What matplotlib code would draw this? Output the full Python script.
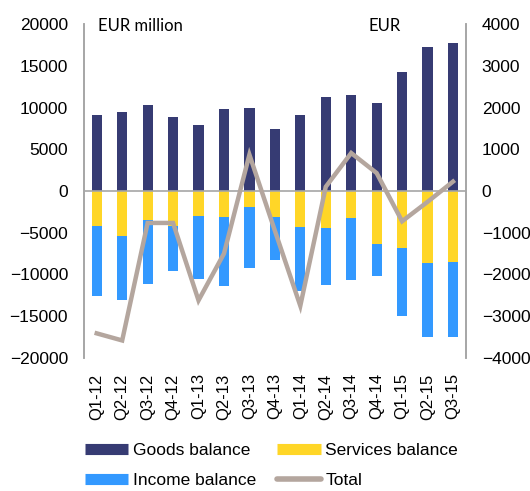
import numpy as np
import matplotlib
matplotlib.use('Agg')
import matplotlib.pyplot as plt
from matplotlib.lines import Line2D

plt.rcParams['font.family'] = ['Liberation Sans', 'DejaVu Sans']

# --- data ---
quarters = ['Q1-12', 'Q2-12', 'Q3-12', 'Q4-12', 'Q1-13', 'Q2-13', 'Q3-13', 'Q4-13',
            'Q1-14', 'Q2-14', 'Q3-14', 'Q4-14', 'Q1-15', 'Q2-15', 'Q3-15']
goods = [9150, 9480, 10320, 8880, 7910, 9840, 10000, 7470,
         9160, 11290, 11490, 10520, 14220, 17190, 17710]
services = [-4220, -5340, -3500, -4220, -3010, -3170, -1970, -3090,
            -4340, -4460, -3250, -6310, -6870, -8680, -8510]
income = [-8350, -7750, -7630, -5420, -7470, -8200, -7230, -5220,
          -7590, -6830, -7390, -3890, -8110, -8790, -8960]
total = [-3410, -3580, -765, -765, -2620, -1500, 870, -950,
         -2750, 100, 910, 430, -725, -260, 225]

GOODS_C = '#363B73'
SERV_C = '#FFD627'
INC_C = '#3399FF'
TOTAL_C = '#B4A69E'
SPINE_C = '#A6A6A6'
FS = 12.5

fig = plt.figure(figsize=(5.30, 4.91), dpi=100)
ax = fig.add_axes([0.1585, 0.2709, 0.7202, 0.6802])

x = np.arange(len(quarters))
w = 0.4
ax.bar(x, goods, w, color=GOODS_C, zorder=2)
ax.bar(x, services, w, color=SERV_C, zorder=2)
ax.bar(x, income, w, bottom=services, color=INC_C, zorder=2)
ax.axhline(0, color=SPINE_C, lw=1.2, zorder=3)

ax.set_xlim(-0.5, len(quarters) - 0.5)
ax.set_ylim(-20000, 20000)
ax.set_yticks(np.arange(-20000, 20001, 5000))
ax.set_xticks(x)
ax.set_xticklabels(quarters, rotation=90, fontsize=12)
ax.tick_params(axis='both', length=0, labelsize=FS)
ax.tick_params(axis='x', pad=11, labelsize=12)
ax.tick_params(axis='y', pad=11.5)

# right axis for the total
ax2 = ax.twinx()
ax2.plot(x, total, color=TOTAL_C, lw=3.2, zorder=4, solid_joinstyle='miter')
ax2.set_ylim(-4000, 4000)
ax2.set_yticks(np.arange(-4000, 4001, 1000))
ax2.tick_params(axis='y', length=0, labelsize=FS, pad=11.5)

for a in (ax, ax2):
    for s in ('top', 'bottom'):
        a.spines[s].set_visible(False)
    for s in ('left', 'right'):
        a.spines[s].set_color(SPINE_C)
        a.spines[s].set_linewidth(1.2)

ax.text(0.037, 0.995, 'EUR million', transform=ax.transAxes, fontsize=12,
        family=['Lato', 'DejaVu Sans'], va='center', ha='left')
ax.text(0.745, 0.995, 'EUR', transform=ax.transAxes, fontsize=12,
        family=['Lato', 'DejaVu Sans'], va='center', ha='left')

# legend fills column by column, so order the entries to read row by row
bar_h = dict(lw=8, solid_capstyle='butt')
handles = [
    Line2D([], [], color=GOODS_C, **bar_h),
    Line2D([], [], color=INC_C, **bar_h),
    Line2D([], [], color=SERV_C, **bar_h),
    Line2D([], [], color=TOTAL_C, lw=4, solid_capstyle='round'),
]
labels = ['Goods balance', 'Income balance', 'Services balance', 'Total']
fig.legend(handles, labels, ncol=2, loc='center left', bbox_to_anchor=(0.16, 0.052),
           frameon=False, fontsize=FS, handlelength=2.5, handletextpad=0.25,
           columnspacing=1.25, labelspacing=0.9, borderpad=0, borderaxespad=0)

plt.savefig('out.png', dpi=100)
